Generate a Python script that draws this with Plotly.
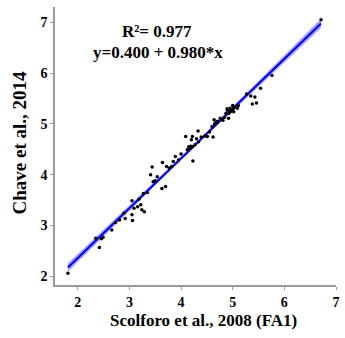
import numpy as np
import plotly.graph_objects as go

# Observed points (Scolforo et al., 2008 FA1 vs Chave et al., 2014)
x_obs = [1.81, 2.35, 2.42, 2.46, 2.49, 2.66, 2.73, 2.81, 2.89, 2.92,
         3.05, 3.05, 3.06, 3.09, 3.16, 3.19, 3.22, 3.24, 3.29, 3.27,
         3.35, 3.41, 3.44, 3.46, 3.50, 3.54, 3.63, 3.70, 3.64, 3.72,
         3.77, 3.82, 3.85, 3.89, 3.95, 4.00, 4.09, 4.12, 4.15, 4.17,
         4.20, 4.22, 4.23, 4.22, 4.27, 4.30, 4.33, 4.34, 4.39, 4.46,
         4.51, 4.55, 4.62, 4.60, 4.64, 4.65, 4.68, 4.71, 4.76, 4.81,
         4.84, 4.87, 4.89, 4.92, 4.93, 4.95, 4.98, 5.00, 5.02, 5.04,
         5.09, 5.11, 5.27, 5.35, 5.38, 5.43, 5.46, 5.54, 5.76, 6.71,
         4.18, 4.19, 4.66, 4.97, 5.01, 4.90]
y_obs = [2.06, 2.75, 2.57, 2.74, 2.77, 2.91, 3.06, 3.11, 3.24, 3.14,
         3.49, 3.21, 3.10, 3.34, 3.37, 3.52, 3.41, 3.31, 3.27, 3.63,
         3.65, 4.00, 4.15, 3.86, 3.88, 3.96, 3.73, 3.77, 4.24, 4.16,
         4.13, 4.16, 4.26, 4.36, 4.29, 4.41, 4.75, 4.49, 4.55, 4.52,
         4.69, 4.75, 4.27, 4.55, 4.59, 4.71, 4.86, 4.65, 4.74, 4.76,
         4.75, 4.84, 4.74, 4.95, 5.08, 5.00, 5.03, 5.05, 5.11, 5.07,
         5.13, 5.21, 5.30, 5.11, 5.21, 5.31, 5.28, 5.36, 5.24, 5.33,
         5.31, 5.36, 5.59, 5.55, 5.39, 5.53, 5.41, 5.70, 5.95, 7.05,
         4.53, 4.56, 5.01, 5.25, 5.30, 5.27]

intercept = 0.400
slope = 0.980
r2_text = "R²= 0.977"
eq_text = "y=0.400 + 0.980*x"
x_title = "Scolforo et al., 2008 (FA1)"
y_title = "Chave et al., 2014"

x_tick_vals = [2, 3, 4, 5, 6, 7]
y_tick_vals = [2, 3, 4, 5, 6, 7]

xo = np.array(x_obs)
yo = np.array(y_obs)
n = len(xo)
xs = np.linspace(xo.min(), xo.max(), 100)
yfit = intercept + slope * xs
resid = yo - (intercept + slope * xo)
s = np.sqrt(np.sum(resid ** 2) / (n - 2))
sxx = np.sum((xo - xo.mean()) ** 2)
hw = 1.99 * s * np.sqrt(1.0 / n + (xs - xo.mean()) ** 2 / sxx)

font_family = "Liberation Serif, Times New Roman, serif"

fig = go.Figure()
fig.add_trace(go.Scatter(
    x=np.concatenate([xs, xs[::-1]]),
    y=np.concatenate([yfit + hw, (yfit - hw)[::-1]]),
    fill="toself", fillcolor="rgba(100,100,255,0.6)",
    line=dict(width=0), mode="lines", hoverinfo="skip", showlegend=False))
fig.add_trace(go.Scatter(x=xs, y=yfit, mode="lines",
                         line=dict(color="#0000FF", width=2), showlegend=False))
fig.add_trace(go.Scatter(x=x_obs, y=y_obs, mode="markers",
                         marker=dict(color="black", size=3.5), showlegend=False))

fig.add_annotation(x=3.53, y=6.81, text="<b>" + r2_text + "</b>", showarrow=False,
                   font=dict(family=font_family, size=17, color="black"))
fig.add_annotation(x=3.55, y=6.41, text="<b>" + eq_text + "</b>", showarrow=False,
                   font=dict(family=font_family, size=17, color="black"))

# axis titles placed as paper annotations
fig.add_annotation(xref="paper", yref="paper", x=(206 - 55) / 285, y=-(320 - 285) / 278,
                   xanchor="center", yanchor="middle",
                   text="<b>" + x_title + "</b>", showarrow=False,
                   font=dict(family=font_family, size=17, color="black"))
fig.add_annotation(xref="paper", yref="paper", x=-(55 - 18) / 285, y=(285 - 143) / 278,
                   xanchor="center", yanchor="middle",
                   text="<b>" + y_title + "</b>", showarrow=False, textangle=-90,
                   font=dict(family=font_family, size=19, color="black"))

axis_common = dict(showgrid=False, zeroline=False, showline=True,
                   linecolor="#9a9a9a", linewidth=1.5,
                   ticks="outside", ticklen=3, tickcolor="#9a9a9a", tickwidth=1,
                   tickfont=dict(family=font_family, size=14, color="black", weight="bold"))

fig.update_layout(
    width=345, height=338,
    margin=dict(l=55, r=5, t=7, b=53),
    paper_bgcolor="white", plot_bgcolor="white",
    xaxis=dict(range=[1.56, 7.0], tickvals=x_tick_vals, **axis_common),
    yaxis=dict(range=[1.83, 7.3], tickvals=y_tick_vals, **axis_common),
)

fig.write_html("out.html")
